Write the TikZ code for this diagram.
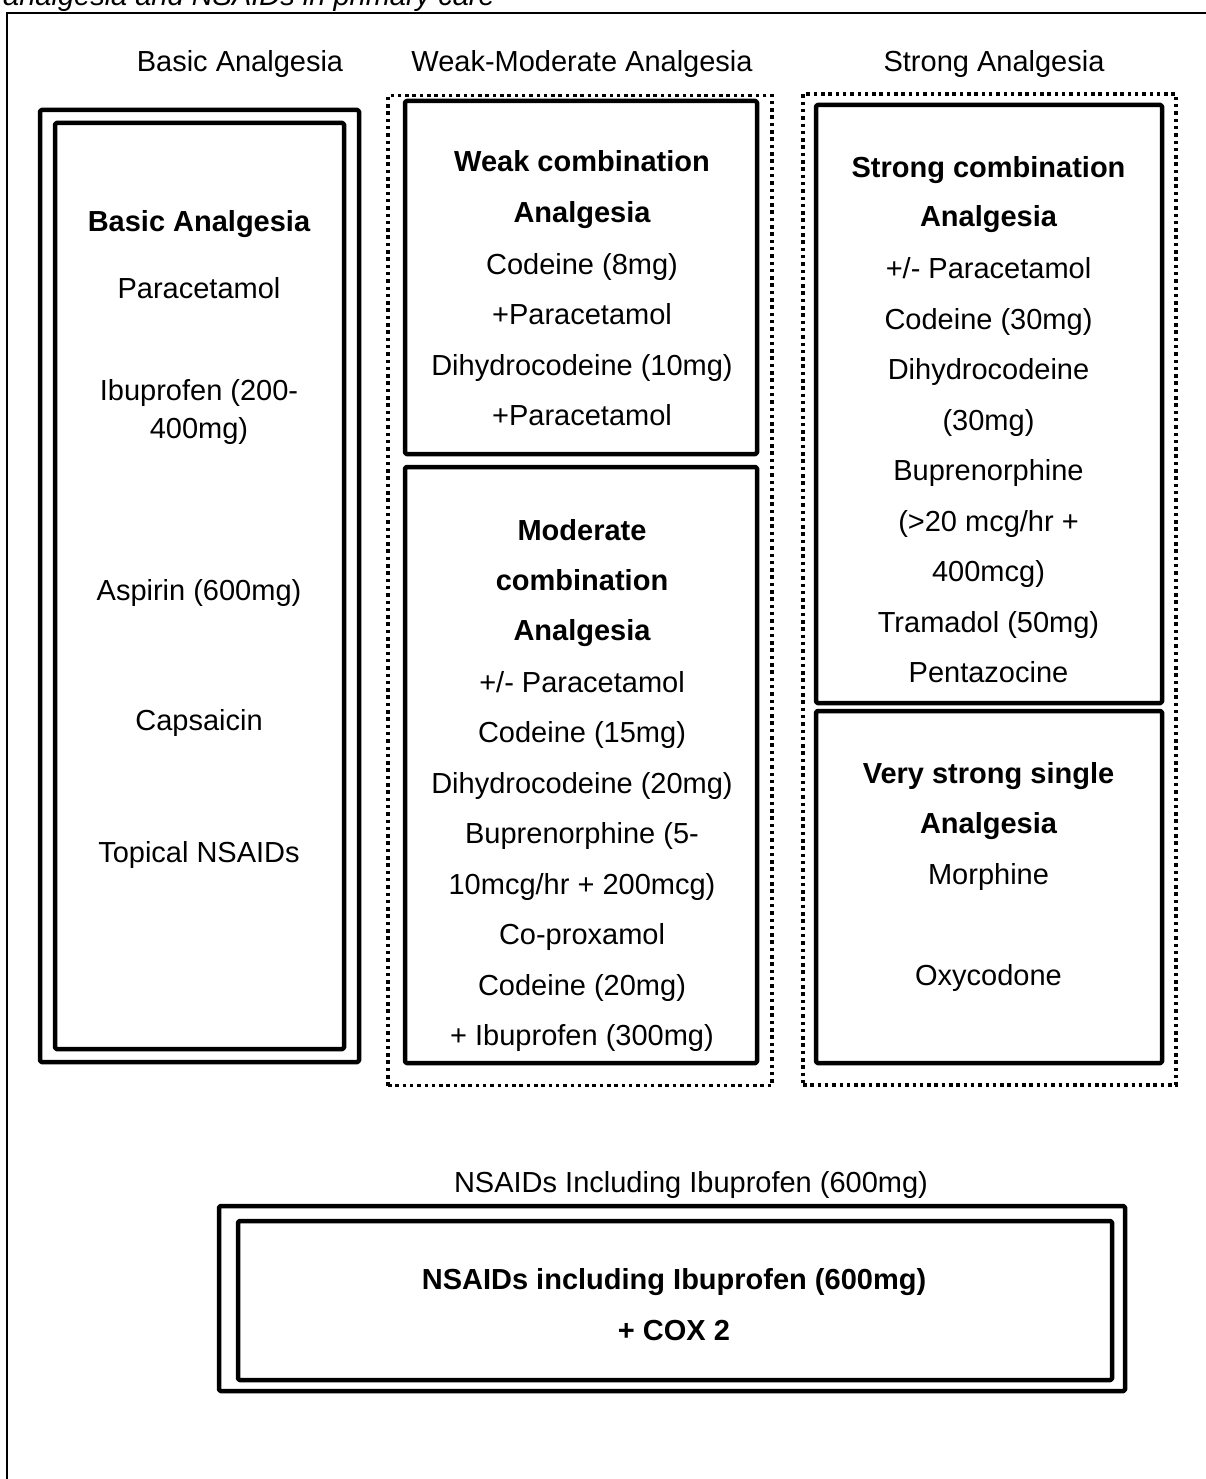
\documentclass[tikz,border=0pt]{standalone}
\usepackage{fontspec}
\setmainfont{Liberation Sans}
\begin{document}
\begin{tikzpicture}[x=1pt,y=-1pt,
  boxline/.style={draw=black, line width=4.5pt, rounded corners=1.5pt, inner sep=0pt, outer sep=0pt, line join=round},
  dotbox/.style={draw=black, line width=3.5pt, dash pattern=on 3.5pt off 3.8pt, inner sep=0pt, outer sep=0pt},
  txt/.style={anchor=base, inner sep=0pt, font=\fontsize{29}{35}\selectfont},
  btxt/.style={anchor=base, inner sep=0pt, font=\fontsize{29}{35}\selectfont\bfseries},
  frame/.style={draw=black, line width=2pt}]
\useasboundingbox (0,0) rectangle (1206,1479);
\clip (0,0) rectangle (1206,1479);
% clipped caption and page frame
\node[txt, anchor=base west, font=\fontsize{29}{35}\selectfont\itshape] (caption) at (3,6) {analgesia and NSAIDs in primary care};
\coordinate (fbl) at (7,1485);
\coordinate (ftl) at (7,13);
\coordinate (ftr) at (1212,13);
\draw[frame] (fbl) -- (ftl) -- (ftr);

% column headings
\node[txt] (hbasic) at (240,72) {Basic Analgesia};
\node[txt] (hweak) at (582,72) {Weak-Moderate Analgesia};
\node[txt] (hstrong) at (994,72) {Strong Analgesia};

% basic analgesia double box
\node[boxline, minimum width=319pt, minimum height=952pt] (basicout) at (199.5,586) {};
\node[boxline, minimum width=289pt, minimum height=926pt] (basicin) at (199.5,586) {};

% weak-moderate group
\node[dotbox, minimum width=384pt, minimum height=990pt] (weakgrp) at (580,590.5) {};
\node[boxline, minimum width=352pt, minimum height=353pt] (weakbox) at (581,277.5) {};
\node[boxline, minimum width=352pt, minimum height=596pt] (modbox) at (581,765) {};

% strong group
\node[dotbox, minimum width=373pt, minimum height=991pt] (stronggrp) at (989.5,589.5) {};
\node[boxline, minimum width=346pt, minimum height=598pt] (strongbox) at (989,404) {};
\node[boxline, minimum width=346pt, minimum height=352pt] (vstrongbox) at (989,887) {};

% NSAIDs double box
\node[txt] (hnsaid) at (691,1192) {NSAIDs Including Ibuprofen (600mg)};
\node[boxline, minimum width=906pt, minimum height=185pt] (nsaidout) at (672,1298.5) {};
\node[boxline, minimum width=874pt, minimum height=159pt] (nsaidin) at (675,1300.5) {};
\node[btxt] (n1) at (674,1289) {NSAIDs including Ibuprofen (600mg)};
\node[btxt] (n2) at (674,1340) {+ COX 2};

% basic texts
\node[btxt] (b0) at (199,232) {Basic Analgesia};
\node[txt] (b1) at (199,298) {Paracetamol};
\node[txt] (b2) at (199,400) {Ibuprofen (200-};
\node[txt] (b3) at (199,438) {400mg)};
\node[txt] (b4) at (199,600) {Aspirin (600mg)};
\node[txt] (b5) at (199,730) {Capsaicin};
\node[txt] (b6) at (199,862) {Topical NSAIDs};

% weak texts
\node[btxt] (w1) at (582,172) {Weak combination};
\node[btxt] (w2) at (582,223) {Analgesia};
\node[txt] (w3) at (582,274) {Codeine (8mg)};
\node[txt] (w4) at (582,324) {+Paracetamol};
\node[txt] (w5) at (582,375) {Dihydrocodeine (10mg)};
\node[txt] (w6) at (582,425) {+Paracetamol};

% moderate texts
\node[btxt] (m1) at (582,540) {Moderate};
\node[btxt] (m2) at (582,590) {combination};
\node[btxt] (m3) at (582,640) {Analgesia};
\node[txt] (m4) at (582,692) {+/- Paracetamol};
\node[txt] (m5) at (582,742) {Codeine (15mg)};
\node[txt] (m6) at (582,793) {Dihydrocodeine (20mg)};
\node[txt] (m7) at (582,843) {Buprenorphine (5-};
\node[txt] (m8) at (582,894) {10mcg/hr + 200mcg)};
\node[txt] (m9) at (582,944) {Co-proxamol};
\node[txt] (m10) at (582,995) {Codeine (20mg)};
\node[txt] (m11) at (582,1045) {+ Ibuprofen (300mg)};

% strong texts
\node[btxt] (s1) at (988.5,178) {Strong combination};
\node[btxt] (s2) at (988.5,227) {Analgesia};
\node[txt] (s3) at (988.5,278) {+/- Paracetamol};
\node[txt] (s4) at (988.5,329) {Codeine (30mg)};
\node[txt] (s5) at (988.5,379) {Dihydrocodeine};
\node[txt] (s6) at (988.5,430) {(30mg)};
\node[txt] (s7) at (988.5,480) {Buprenorphine};
\node[txt] (s8) at (988.5,531) {(>20 mcg/hr +};
\node[txt] (s9) at (988.5,581) {400mcg)};
\node[txt] (s10) at (988.5,632) {Tramadol (50mg)};
\node[txt] (s11) at (988.5,682) {Pentazocine};

% very strong texts
\node[btxt] (v1) at (988.5,783) {Very strong single};
\node[btxt] (v2) at (988.5,833) {Analgesia};
\node[txt] (v3) at (988.5,884) {Morphine};
\node[txt] (v4) at (988.5,985) {Oxycodone};
\end{tikzpicture}
\end{document}
